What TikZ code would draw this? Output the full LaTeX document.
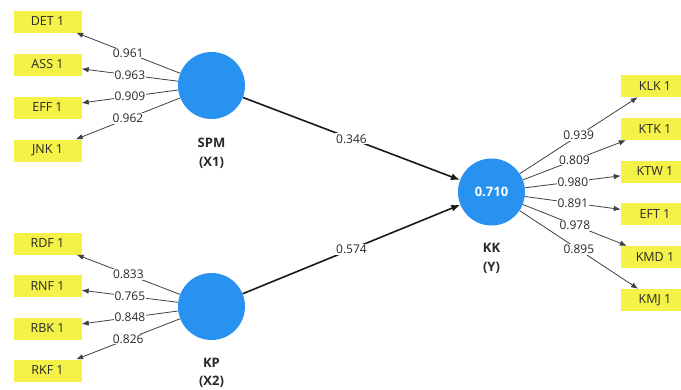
\documentclass[tikz,border=0pt]{standalone}
\usepackage{fontspec}
\setmainfont{Open Sans}
\usetikzlibrary{arrows.meta}
\definecolor{lv}{RGB}{40,146,240}
\definecolor{ind}{RGB}{244,242,72}
\definecolor{txt}{RGB}{40,40,40}
\begin{document}
\begin{tikzpicture}[x=1pt,y=-1pt,
  indbox/.style={rectangle, fill=ind, minimum width=68pt, minimum height=22pt, inner sep=0pt, font=\fontsize{12.5}{14}\selectfont, text=txt},
  lvc/.style={circle, fill=lv, minimum size=67pt, inner sep=0pt, font=\bfseries\fontsize{13}{15}\selectfont, text=white},
  lvlab/.style={align=center, inner sep=0pt, font=\bfseries\fontsize{13}{18.5}\selectfont, text=txt},
  load/.style={draw=black!75, line width=0.8pt, -{Latex[length=7pt,width=5.5pt]}},
  structpath/.style={draw=black!90, line width=1.6pt, -{Latex[length=9pt,width=7pt]}},
  num/.style={fill=white, inner sep=1pt, font=\fontsize{12}{14}\selectfont, text=txt}]
\useasboundingbox (0,0) rectangle (681,389);
\fill[white] (0,0) rectangle (681,389);
\clip (0,0) rectangle (681,389);
% latent variables
\node[lvc] (spm) at (211.5,85.5) {};
\node[lvc] (kp) at (211.5,306.5) {};
\node[lvc] (kk) at (491.5,192) {0.710};
\node[lvlab] (spml) at (211.5,153.5) {SPM\\(X1)};
\node[lvlab] (kpl) at (211.5,373) {KP\\(X2)};
\node[lvlab] (kkl) at (491.5,258.5) {KK\\(Y)};
% indicators left top
\node[indbox] (det) at (47.5,21.5) {DET 1};
\node[indbox] (ass) at (47.5,64.5) {ASS 1};
\node[indbox] (eff) at (47.5,107.5) {EFF 1};
\node[indbox] (jnk) at (47.5,150.5) {JNK 1};
% indicators left bottom
\node[indbox] (rdf) at (47.5,243.5) {RDF 1};
\node[indbox] (rnf) at (47.5,286) {RNF 1};
\node[indbox] (rbk) at (47.5,328.5) {RBK 1};
\node[indbox] (rkf) at (47.5,370.5) {RKF 1};
% indicators right
\node[indbox] (klk) at (655,86) {KLK 1};
\node[indbox] (ktk) at (655,129) {KTK 1};
\node[indbox] (ktw) at (655,171.5) {KTW 1};
\node[indbox] (eft) at (655,214) {EFT 1};
\node[indbox] (kmd) at (655,257) {KMD 1};
\node[indbox] (kmj) at (655,300) {KMJ 1};
% loadings
\draw[load] (spm) -- node[num]{0.961} (det);
\draw[load] (spm) -- node[num]{0.963} (ass);
\draw[load] (spm) -- node[num]{0.909} (eff);
\draw[load] (spm) -- node[num]{0.962} (jnk);
\draw[load] (kp) -- node[num]{0.833} (rdf);
\draw[load] (kp) -- node[num]{0.765} (rnf);
\draw[load] (kp) -- node[num]{0.848} (rbk);
\draw[load] (kp) -- node[num]{0.826} (rkf);
\draw[load] (kk) -- node[num]{0.939} (klk);
\draw[load] (kk) -- node[num]{0.809} (ktk);
\draw[load] (kk) -- node[num]{0.980} (ktw);
\draw[load] (kk) -- node[num]{0.891} (eft);
\draw[load] (kk) -- node[num]{0.978} (kmd);
\draw[load] (kk) -- node[num]{0.895} (kmj);
% structural paths
\draw[structpath] (spm) -- node[num]{0.346} (kk);
\draw[structpath] (kp) -- node[num]{0.574} (kk);
\end{tikzpicture}
\end{document}
